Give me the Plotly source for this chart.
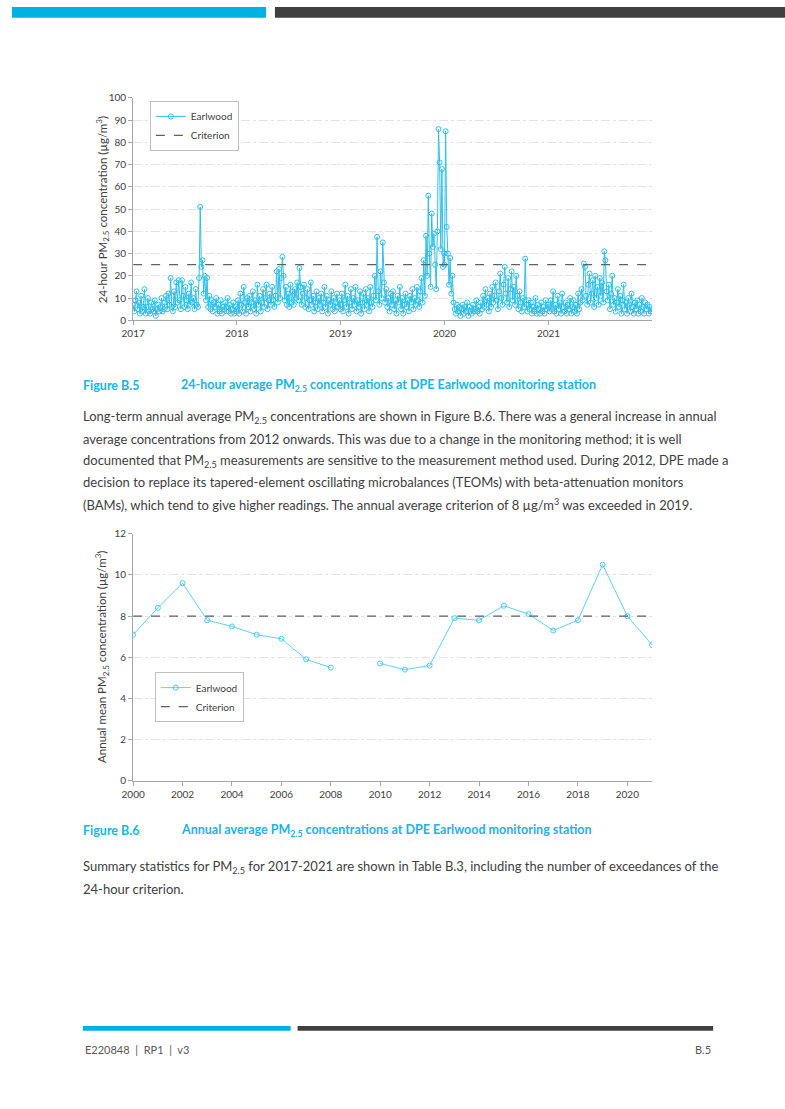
import pandas as pd
import plotly.graph_objects as go

# ---------------- data ----------------
# 24-hour PM2.5 at Earlwood, sampled every 4th day (values read from the chart)
vals_2017 = [7, 4, 9, 13, 5, 8, 3, 11, 4, 6, 14, 3, 6, 10, 4,
             3, 8, 5, 4, 9, 2, 5, 7, 4, 6, 10, 4, 5, 8, 11,
             5, 12, 7, 19, 6, 4, 13, 6, 17, 8, 18, 9, 5, 18, 11,
             6, 15, 9, 5, 12, 7, 17, 8, 10, 5, 14, 7, 6, 19, 51,
             24, 27, 12, 20, 9, 19, 6, 11, 5, 9, 4, 8, 6, 10, 3,
             7, 4, 9, 3, 6, 5, 8, 4, 10, 4, 7, 3, 5, 8, 3, 6, 4]
vals_2018 = [5, 9, 3, 12, 7, 4, 15, 8, 3, 10, 6, 11, 4, 8, 13,
             5, 9, 3, 16, 7, 11, 4, 8, 14, 6, 10, 16, 5, 9, 12,
             7, 15, 9, 6, 11, 22, 8, 23, 10, 19, 28.5, 20, 9, 15, 7,
             12, 6, 16, 8, 13, 7, 14, 10, 17, 9, 23.5, 15, 7, 12, 16,
             6, 10, 14, 5, 9, 17, 7, 11, 4, 8, 13, 5, 10, 7, 12,
             4, 8, 15, 6, 11, 3, 9, 7, 13, 5, 10, 4, 8, 12, 6, 9, 5]
vals_2019 = [7, 12, 4, 9, 16, 6, 11, 3, 8, 14, 5, 10, 7, 15, 4,
             9, 6, 13, 3, 8, 12, 5, 14, 7, 10, 4, 15, 8, 6, 11,
             20, 9, 37.5, 13, 7, 22, 10, 35, 17, 8, 14, 6, 10, 4, 12,
             7, 13, 5, 9, 3, 11, 8, 15, 5, 10, 3, 7, 12, 6, 9,
             4, 11, 8, 14, 5, 10, 7, 15, 9, 6, 13, 19, 8, 27, 11,
             38, 20, 56, 30, 15, 48, 33, 39, 25, 14, 40, 86, 71, 32, 68, 24, 30]
vals_2020 = [25, 85, 42, 30, 16, 28, 12, 20, 8, 5, 3, 7, 4, 6, 2,
             5, 7, 3, 6, 4, 8, 2, 6, 4, 3, 7, 4, 5, 9, 4,
             6, 3, 8, 5, 11, 6, 14, 7, 10, 4, 12, 6, 15, 8, 11,
             17, 9, 5, 13, 21, 10, 7, 16, 24, 12, 8, 19, 6, 14, 22,
             9, 15, 7, 20, 11, 5, 13, 8, 4, 10, 6, 27.7, 7, 4, 9,
             5, 8, 3, 6, 4, 10, 3, 7, 5, 3, 8, 4, 6, 3, 9, 5, 7]
vals_2021 = [6, 4, 9, 5, 13, 4, 7, 3, 11, 5, 8, 3, 12, 6, 4,
             8, 3, 7, 5, 10, 3, 6, 9, 4, 7, 3, 12, 5, 8, 14,
             9, 25.5, 24, 11, 7, 16, 21, 8, 12, 18, 6, 20, 10, 15, 7,
             19, 11, 17, 8, 31, 27, 13, 9, 16, 5, 12, 20, 7, 10, 4,
             8, 14, 6, 11, 3, 9, 16, 5, 8, 3, 10, 7, 4, 12, 6,
             3, 8, 5, 9, 3, 7, 4, 10, 6, 3, 8, 5, 7, 3, 6, 4, 5]
daily_years = [2017, 2018, 2019, 2020, 2021]
criterion_24h = 25
y1_ticks = [0, 10, 20, 30, 40, 50, 60, 70, 80, 90, 100]
x1_tick_labels = ["2017", "2018", "2019", "2020", "2021"]

annual_years = list(range(2000, 2022))
annual_mean = [7.1, 8.4, 9.6, 7.8, 7.5, 7.1, 6.9, 5.9, 5.5, None, 5.7,
               5.4, 5.6, 7.9, 7.8, 8.5, 8.1, 7.3, 7.8, 10.5, 8.0, 6.6]
criterion_annual = 8
y2_ticks = [0, 2, 4, 6, 8, 10, 12]
x2_ticks = list(range(2000, 2022, 2))

# ---------------- build ----------------
W, H = 785, 1109
def fx(p):
    return p / W
def fy(p):
    return 1 - p / H

FONT = "Lato"
CYAN = "#2fbfea"
TXT = "#404040"

dates, vals = [], []
for yr, v in zip(daily_years, [vals_2017, vals_2018, vals_2019, vals_2020, vals_2021]):
    d = pd.date_range(f"{yr}-01-01", f"{yr}-12-31", freq="4D")
    dates += list(d[:len(v)])
    vals += v

fig = go.Figure()
marker = dict(symbol="circle-open", size=5, color=CYAN, line=dict(width=1, color=CYAN))

fig.add_trace(go.Scatter(x=dates, y=vals, mode="lines+markers", name="Earlwood",
                         line=dict(color=CYAN, width=1), marker=marker,
                         xaxis="x", yaxis="y", legend="legend"))
fig.add_trace(go.Scatter(x=[pd.Timestamp("2017-01-01"), pd.Timestamp("2021-12-31")],
                         y=[criterion_24h, criterion_24h], mode="lines", name="Criterion",
                         line=dict(color="#606060", width=1.3, dash="dash"),
                         xaxis="x", yaxis="y", legend="legend"))

fig.add_trace(go.Scatter(x=annual_years, y=annual_mean, mode="lines+markers", name="Earlwood",
                         line=dict(color="#5fd0f2", width=1), marker=dict(symbol="circle-open", size=5,
                         color="#4cc8ef", line=dict(width=1, color="#4cc8ef")),
                         connectgaps=False, xaxis="x2", yaxis="y2", legend="legend2"))
fig.add_trace(go.Scatter(x=[annual_years[0], annual_years[-1]],
                         y=[criterion_annual, criterion_annual], mode="lines", name="Criterion",
                         line=dict(color="#606060", width=1.3, dash="dash"),
                         xaxis="x2", yaxis="y2", legend="legend2"))

axis_common = dict(showline=True, linecolor="#a6a6a6", linewidth=1, ticks="outside",
                   ticklen=4, tickcolor="#a6a6a6", zeroline=False,
                   tickfont=dict(family=FONT, size=10, color=TXT))
grid = dict(showgrid=True, gridcolor="#e3e3e3", griddash="dashdot", gridwidth=1)

fig.update_layout(
    width=W, height=H, margin=dict(l=0, r=0, t=0, b=0),
    paper_bgcolor="white", plot_bgcolor="white",
    font=dict(family=FONT, color=TXT),
    xaxis=dict(domain=[fx(123), fx(650)], anchor="y", type="date",
               range=["2017-01-01", "2021-12-31"],
               tickvals=[f"{y}-01-01" for y in x1_tick_labels], ticktext=x1_tick_labels,
               showgrid=False, **axis_common),
    yaxis=dict(domain=[fy(317), fy(92)], anchor="x", range=[0, 100],
               tickvals=y1_ticks, **grid, **axis_common),
    xaxis2=dict(domain=[fx(123), fx(650)], anchor="y2", range=[2000, 2021],
                tickvals=x2_ticks, showgrid=False, **axis_common),
    yaxis2=dict(domain=[fy(783), fy(533)], anchor="x2", range=[0, 12],
                tickvals=y2_ticks, **grid, **axis_common),
    legend=dict(x=fx(140), y=fy(95), xanchor="left", yanchor="top",
                bgcolor="white", bordercolor="#bfbfbf", borderwidth=1,
                font=dict(family=FONT, size=10, color=TXT), tracegroupgap=6),
    legend2=dict(x=fx(145), y=fy(673), xanchor="left", yanchor="top",
                 bgcolor="white", bordercolor="#bfbfbf", borderwidth=1,
                 font=dict(family=FONT, size=10, color=TXT), tracegroupgap=6),
)

shapes = [
    dict(type="rect", xref="paper", yref="paper", x0=fx(0), x1=fx(258), y0=fy(11), y1=fy(0),
         fillcolor="#00b2e3", line=dict(width=0)),
    dict(type="rect", xref="paper", yref="paper", x0=fx(267), x1=fx(785), y0=fy(11), y1=fy(0),
         fillcolor="#404040", line=dict(width=0)),
    dict(type="rect", xref="paper", yref="paper", x0=fx(72), x1=fx(283), y0=fy(1036), y1=fy(1031),
         fillcolor="#00b2e3", line=dict(width=0)),
    dict(type="rect", xref="paper", yref="paper", x0=fx(290), x1=fx(712), y0=fy(1036), y1=fy(1031),
         fillcolor="#404040", line=dict(width=0)),
]
fig.update_layout(shapes=shapes)

def ann(text, x, y, size=13, color=TXT, bold=False, xanchor="left", angle=0):
    if bold:
        text = f"<b>{text}</b>"
    fig.add_annotation(text=text, x=fx(x), y=fy(y), xref="paper", yref="paper",
                       xanchor=xanchor, yanchor="middle", showarrow=False, textangle=angle,
                       font=dict(family=FONT, size=size, color=color))

ann("24-hour PM<sub>2.5</sub> concentration (µg/m<sup>3</sup>)", 92, 205, size=11.5,
    xanchor="center", angle=-90)
ann("Annual mean PM<sub>2.5</sub> concentration (µg/m<sup>3</sup>)", 91, 658, size=11.5,
    xanchor="center", angle=-90)

CAP = "#1ab4e6"
ann("Figure B.5", 70, 383, size=12.5, color=CAP, bold=True)
ann("24-hour average PM<sub>2.5</sub> concentrations at DPE Earlwood monitoring station",
    170, 383, size=12.5, color=CAP, bold=True)
ann("Figure B.6", 70, 833, size=12.5, color=CAP, bold=True)
ann("Annual average PM<sub>2.5</sub> concentrations at DPE Earlwood monitoring station",
    170, 833, size=12.5, color=CAP, bold=True)

para1 = [
    "Long-term annual average PM<sub>2.5</sub> concentrations are shown in Figure B.6. There was a general increase in annual",
    "average concentrations from 2012 onwards. This was due to a change in the monitoring method; it is well",
    "documented that PM<sub>2.5</sub> measurements are sensitive to the measurement method used. During 2012, DPE made a",
    "decision to replace its tapered-element oscillating microbalances (TEOMs) with beta-attenuation monitors",
    "(BAMs), which tend to give higher readings. The annual average criterion of 8 µg/m<sup>3</sup> was exceeded in 2019.",
]
for i, line in enumerate(para1):
    ann(line, 70, 415 + i * 22, size=13)

para2 = [
    "Summary statistics for PM<sub>2.5</sub> for 2017-2021 are shown in Table B.3, including the number of exceedances of the",
    "24-hour criterion.",
]
for i, line in enumerate(para2):
    ann(line, 70, 870 + i * 22, size=13)

ann("E220848  |  RP1  |  v3", 72, 1055, size=11, color="#595959")
ann("B.5", 712, 1055, size=11, color="#595959", xanchor="right")

post = ("document.documentElement.style.margin='0';document.body.style.margin='0';"
        "document.body.style.padding='0';document.body.style.overflow='hidden';"
        "var gd=document.getElementById('{plot_id}');gd.style.position='absolute';"
        "gd.style.left='0px';gd.style.top='0px';")
fig.write_html("out.html", config={"displayModeBar": False}, post_script=post)
